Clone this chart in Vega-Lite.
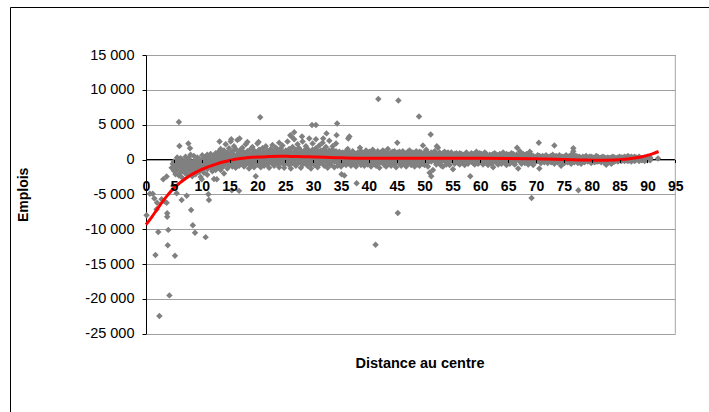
{
  "$schema": "https://vega.github.io/schema/vega-lite/v6.json",
  "width": 760,
  "height": 460,
  "autosize": "none",
  "padding": {"left": 10, "top": 7, "right": 0, "bottom": 0},
  "background": "white",
  "config": {
    "view": {"stroke": "#000000", "strokeWidth": 1},
    "font": "Liberation Sans"
  },
  "datasets": {
    "trend": [
      {"d":0,"e":-9350},{"d":1,"e":-8300},{"d":2,"e":-7150},{"d":3,"e":-6000},{"d":4,"e":-5000},{"d":5,"e":-4100},{"d":6,"e":-3400},{"d":7,"e":-2800},{"d":8,"e":-2250},{"d":9,"e":-1800},{"d":10,"e":-1400},{"d":11,"e":-1100},{"d":12,"e":-830},{"d":13,"e":-560},{"d":14,"e":-330},{"d":15,"e":-130},{"d":16,"e":50},{"d":17,"e":160},{"d":18,"e":240},{"d":19,"e":310},{"d":20,"e":360},{"d":22,"e":420},{"d":24,"e":460},{"d":26,"e":450},{"d":28,"e":410},{"d":30,"e":370},{"d":32,"e":320},{"d":34,"e":270},{"d":36,"e":220},{"d":40,"e":180},{"d":45,"e":170},{"d":50,"e":170},{"d":55,"e":170},{"d":60,"e":170},{"d":65,"e":160},{"d":70,"e":120},{"d":72,"e":60},{"d":75,"e":0},{"d":78,"e":-60},{"d":81,"e":-120},{"d":84,"e":-80},{"d":86,"e":40},{"d":88,"e":250},{"d":89,"e":400},{"d":90,"e":600},{"d":91,"e":850},{"d":92,"e":1150}
    ],
    "pts": [
      {"d":0.1,"e":-8000},{"d":0.7,"e":-4900},{"d":1.2,"e":-4900},{"d":1.5,"e":-5600},{"d":1.7,"e":-13700},{"d":1.9,"e":-7150},{"d":2.0,"e":-6200},{"d":2.2,"e":-10400},{"d":2.4,"e":-22450},{"d":2.8,"e":-5700},{"d":3.1,"e":-2830},{"d":3.3,"e":-6000},{"d":3.7,"e":-2450},{"d":3.7,"e":-6200},{"d":3.8,"e":-7700},{"d":3.8,"e":-8200},{"d":4.0,"e":-10100},{"d":3.9,"e":-12300},{"d":4.2,"e":-19500},{"d":4.6,"e":-1200},{"d":4.8,"e":-600},{"d":4.9,"e":-3800},{"d":5.2,"e":-13800},{"d":5.5,"e":-4850},{"d":5.9,"e":5400},{"d":6.0,"e":1950},{"d":6.4,"e":-5800},{"d":7.3,"e":-5200},{"d":7.6,"e":2300},{"d":7.9,"e":1600},{"d":8.1,"e":-7250},{"d":8.4,"e":-9450},{"d":8.8,"e":-10500},{"d":10.7,"e":-11140},{"d":11.2,"e":-5000},{"d":11.3,"e":-5800},{"d":10.0,"e":-2830},{"d":12.7,"e":-2830},{"d":15.4,"e":-4420},{"d":16.7,"e":-4500},{"d":20.5,"e":6050},{"d":20.2,"e":2530},{"d":18.2,"e":2500},{"d":16.8,"e":3000},{"d":15.3,"e":2900},{"d":13.2,"e":2600},{"d":23.9,"e":2400},{"d":26.1,"e":3300},{"d":26.6,"e":3900},{"d":25.9,"e":3500},{"d":28.0,"e":3300},{"d":29.8,"e":4940},{"d":30.5,"e":4940},{"d":31.8,"e":3000},{"d":32.4,"e":3750},{"d":34.3,"e":5170},{"d":34.2,"e":3500},{"d":36.3,"e":3000},{"d":36.5,"e":3300},{"d":38.4,"e":1700},{"d":41.7,"e":8680},{"d":45.3,"e":8480},{"d":45.1,"e":2400},{"d":41.2,"e":-12230},{"d":45.2,"e":-7680},{"d":49.0,"e":6180},{"d":51.1,"e":3600},{"d":49.7,"e":2000},{"d":52.2,"e":1900},{"d":58.2,"e":-2400},{"d":66.6,"e":1700},{"d":68.9,"e":1100},{"d":70.5,"e":2400},{"d":69.2,"e":-5520},{"d":73.3,"e":2000},{"d":76.7,"e":1600},{"d":76.7,"e":1200},{"d":77.6,"e":-4420},{"d":91.9,"e":150},{"d":37.8,"e":-3400},{"d":35.1,"e":-2100},{"d":35.6,"e":-2300},
      {"d":5.0,"e":-300},{"d":5.0,"e":-900},{"d":5.0,"e":-1600},{"d":5.3,"e":-200},{"d":5.3,"e":-1200},{"d":5.3,"e":-2100},{"d":5.6,"e":-600},{"d":5.6,"e":-1500},{"d":5.6,"e":300},{"d":5.9,"e":-100},{"d":5.9,"e":-800},{"d":5.9,"e":-2300},{"d":6.2,"e":-400},{"d":6.2,"e":-1100},{"d":6.2,"e":-1900},{"d":6.2,"e":200},{"d":6.5,"e":-700},{"d":6.5,"e":-1400},{"d":6.5,"e":-2600},{"d":6.8,"e":-200},{"d":6.8,"e":-1000},{"d":6.8,"e":-1700},{"d":7.1,"e":-500},{"d":7.1,"e":-1300},{"d":7.1,"e":-2000},{"d":7.1,"e":400},{"d":7.4,"e":-100},{"d":7.4,"e":-900},{"d":7.4,"e":-2200},{"d":7.7,"e":-600},{"d":7.7,"e":-1500},{"d":7.7,"e":200},{"d":8.0,"e":-300},{"d":8.0,"e":-1100},{"d":8.0,"e":-1800},{"d":8.0,"e":700},{"d":8.3,"e":-800},{"d":8.3,"e":-1400},{"d":8.3,"e":-2400},{"d":8.6,"e":-200},{"d":8.6,"e":-1000},{"d":8.6,"e":500},{"d":8.9,"e":-500},{"d":8.9,"e":-1600},{"d":8.9,"e":-2100},{"d":9.2,"e":-100},{"d":9.2,"e":-900},{"d":9.2,"e":300},{"d":9.2,"e":-1300},{"d":9.5,"e":-700},{"d":9.5,"e":-1800},{"d":9.5,"e":100},{"d":9.8,"e":-400},{"d":9.8,"e":-1200},{"d":9.8,"e":-2500},{"d":10.1,"e":600},{"d":10.1,"e":-200},{"d":10.1,"e":-1000},{"d":10.1,"e":-1500},{"d":10.4,"e":200},{"d":10.4,"e":-600},{"d":10.4,"e":-1900},{"d":10.7,"e":-300},{"d":10.7,"e":-1100},{"d":10.7,"e":400},{"d":11.0,"e":700},{"d":11.0,"e":-800},{"d":11.0,"e":-1400},{"d":11.0,"e":-2200},{"d":11.3,"e":-100},{"d":11.3,"e":-600},{"d":11.3,"e":300},{"d":11.6,"e":-400},{"d":11.6,"e":-1200},{"d":11.6,"e":800},{"d":11.9,"e":100},{"d":11.9,"e":-900},{"d":11.9,"e":-1700},{"d":12.2,"e":500},{"d":12.2,"e":-300},{"d":12.2,"e":-1000},{"d":12.2,"e":-2800},{"d":12.5,"e":900},{"d":12.5,"e":0},{"d":12.5,"e":-700},{"d":12.5,"e":-1500},{"d":12.8,"e":300},{"d":12.8,"e":-400},{"d":12.8,"e":-1200},
      {"d":13.1,"e":1200},{"d":13.1,"e":600},{"d":13.1,"e":-200},{"d":13.1,"e":-900},{"d":13.4,"e":-600},{"d":13.4,"e":-1500},{"d":13.4,"e":200},{"d":13.4,"e":1500},{"d":13.7,"e":800},{"d":13.7,"e":100},{"d":13.7,"e":-400},{"d":13.7,"e":-1100},{"d":14.0,"e":1300},{"d":14.0,"e":400},{"d":14.0,"e":-300},{"d":14.0,"e":-2000},{"d":14.0,"e":-800},{"d":14.3,"e":2200},{"d":14.3,"e":700},{"d":14.3,"e":0},{"d":14.3,"e":-600},{"d":14.6,"e":1000},{"d":14.6,"e":200},{"d":14.6,"e":-300},{"d":14.6,"e":-1300},{"d":14.9,"e":500},{"d":14.9,"e":-100},{"d":14.9,"e":-900},{"d":14.9,"e":1600},{"d":15.2,"e":2600},{"d":15.2,"e":900},{"d":15.2,"e":200},{"d":15.2,"e":-500},{"d":15.5,"e":1200},{"d":15.5,"e":400},{"d":15.5,"e":-200},{"d":15.5,"e":-1000},{"d":15.8,"e":700},{"d":15.8,"e":0},{"d":15.8,"e":-700},{"d":15.8,"e":1900},{"d":16.1,"e":1500},{"d":16.1,"e":300},{"d":16.1,"e":-400},{"d":16.1,"e":-1200},{"d":16.4,"e":2800},{"d":16.4,"e":800},{"d":16.4,"e":100},{"d":16.4,"e":-300},{"d":16.7,"e":1100},{"d":16.7,"e":500},{"d":16.7,"e":-100},{"d":16.7,"e":-900},{"d":17.0,"e":600},{"d":17.0,"e":0},{"d":17.0,"e":-600},{"d":17.0,"e":1400},{"d":17.3,"e":1700},{"d":17.3,"e":900},{"d":17.3,"e":200},{"d":17.3,"e":-400},{"d":17.6,"e":1000},{"d":17.6,"e":300},{"d":17.6,"e":-200},{"d":17.6,"e":-1000},{"d":17.9,"e":500},{"d":17.9,"e":-100},{"d":17.9,"e":-700},{"d":17.9,"e":2200},{"d":18.2,"e":1200},{"d":18.2,"e":600},{"d":18.2,"e":0},{"d":18.2,"e":-500},{"d":18.5,"e":800},{"d":18.5,"e":200},{"d":18.5,"e":-300},{"d":18.5,"e":-1300},{"d":18.8,"e":1500},{"d":18.8,"e":400},{"d":18.8,"e":-100},{"d":18.8,"e":-800},{"d":19.1,"e":900},{"d":19.1,"e":100},{"d":19.1,"e":-500},{"d":19.1,"e":1800},{"d":19.4,"e":1300},{"d":19.4,"e":600},{"d":19.4,"e":-200},{"d":19.4,"e":-1100},{"d":19.7,"e":700},{"d":19.7,"e":200},{"d":19.7,"e":-400},{"d":19.7,"e":-2400},{"d":20.0,"e":1000},{"d":20.0,"e":400},{"d":20.0,"e":-100},{"d":20.0,"e":-700},{"d":20.0,"e":2300},
      {"d":20.3,"e":1400},{"d":20.3,"e":600},{"d":20.3,"e":0},{"d":20.3,"e":-600},{"d":20.6,"e":900},{"d":20.6,"e":300},{"d":20.6,"e":-300},{"d":20.6,"e":-1100},{"d":20.9,"e":1600},{"d":20.9,"e":700},{"d":20.9,"e":100},{"d":20.9,"e":-500},{"d":21.2,"e":1100},{"d":21.2,"e":400},{"d":21.2,"e":-200},{"d":21.2,"e":-900},{"d":21.5,"e":800},{"d":21.5,"e":0},{"d":21.5,"e":-500},{"d":21.5,"e":1900},{"d":21.8,"e":1300},{"d":21.8,"e":600},{"d":21.8,"e":100},{"d":21.8,"e":-700},{"d":22.1,"e":1000},{"d":22.1,"e":300},{"d":22.1,"e":-300},{"d":22.1,"e":-1200},{"d":22.4,"e":1500},{"d":22.4,"e":800},{"d":22.4,"e":200},{"d":22.4,"e":-400},{"d":22.7,"e":700},{"d":22.7,"e":0},{"d":22.7,"e":-600},{"d":22.7,"e":2100},{"d":23.0,"e":1200},{"d":23.0,"e":500},{"d":23.0,"e":-100},{"d":23.0,"e":-900},{"d":23.3,"e":900},{"d":23.3,"e":300},{"d":23.3,"e":-400},{"d":23.3,"e":1700},{"d":23.6,"e":1400},{"d":23.6,"e":700},{"d":23.6,"e":100},{"d":23.6,"e":-600},{"d":23.9,"e":1000},{"d":23.9,"e":400},{"d":23.9,"e":-200},{"d":23.9,"e":-1100},{"d":24.2,"e":1600},{"d":24.2,"e":800},{"d":24.2,"e":0},{"d":24.2,"e":-500},{"d":24.5,"e":1100},{"d":24.5,"e":300},{"d":24.5,"e":-300},{"d":24.5,"e":2000},{"d":24.8,"e":800},{"d":24.8,"e":100},{"d":24.8,"e":-700},{"d":24.8,"e":-1200},{"d":25.1,"e":1300},{"d":25.1,"e":600},{"d":25.1,"e":0},{"d":25.1,"e":-400},{"d":25.4,"e":900},{"d":25.4,"e":300},{"d":25.4,"e":-500},{"d":25.4,"e":2600},{"d":25.7,"e":1500},{"d":25.7,"e":700},{"d":25.7,"e":100},{"d":25.7,"e":-800},{"d":26.0,"e":1100},{"d":26.0,"e":400},{"d":26.0,"e":-200},{"d":26.0,"e":-1300},{"d":26.3,"e":1800},{"d":26.3,"e":800},{"d":26.3,"e":0},{"d":26.3,"e":-500},{"d":26.6,"e":1000},{"d":26.6,"e":300},{"d":26.6,"e":-400},{"d":26.6,"e":2900},{"d":26.9,"e":1400},{"d":26.9,"e":600},{"d":26.9,"e":100},{"d":26.9,"e":-900},{"d":27.2,"e":900},{"d":27.2,"e":200},{"d":27.2,"e":-600},{"d":27.2,"e":2200},{"d":27.5,"e":1600},{"d":27.5,"e":700},{"d":27.5,"e":0},{"d":27.5,"e":-400},{"d":27.8,"e":1200},{"d":27.8,"e":400},{"d":27.8,"e":-300},{"d":27.8,"e":-1200},{"d":28.1,"e":800},{"d":28.1,"e":100},{"d":28.1,"e":-700},{"d":28.1,"e":2600},{"d":28.4,"e":1300},{"d":28.4,"e":600},{"d":28.4,"e":0},{"d":28.4,"e":-500},{"d":28.7,"e":1000},{"d":28.7,"e":300},{"d":28.7,"e":-400},{"d":28.7,"e":1900},{"d":29.0,"e":1500},{"d":29.0,"e":700},{"d":29.0,"e":100},{"d":29.0,"e":-900},{"d":29.3,"e":1100},{"d":29.3,"e":400},{"d":29.3,"e":-200},{"d":29.3,"e":3000},{"d":29.6,"e":800},{"d":29.6,"e":0},{"d":29.6,"e":-600},{"d":29.6,"e":-1300},{"d":29.9,"e":1400},{"d":29.9,"e":600},{"d":29.9,"e":100},{"d":29.9,"e":2300},{"d":30.2,"e":1000},{"d":30.2,"e":300},{"d":30.2,"e":-300},{"d":30.2,"e":-800},{"d":30.5,"e":1600},{"d":30.5,"e":800},{"d":30.5,"e":0},{"d":30.5,"e":2900},{"d":30.8,"e":1200},{"d":30.8,"e":400},{"d":30.8,"e":-400},{"d":30.8,"e":-1100},{"d":31.1,"e":900},{"d":31.1,"e":200},{"d":31.1,"e":-600},{"d":31.1,"e":2000},{"d":31.4,"e":1300},{"d":31.4,"e":600},{"d":31.4,"e":0},{"d":31.4,"e":-500},{"d":31.7,"e":1000},{"d":31.7,"e":300},{"d":31.7,"e":-300},{"d":31.7,"e":2400},{"d":32.0,"e":1500},{"d":32.0,"e":700},{"d":32.0,"e":100},{"d":32.0,"e":-900},{"d":32.3,"e":1100},{"d":32.3,"e":400},{"d":32.3,"e":-200},{"d":32.3,"e":1800},{"d":32.6,"e":800},{"d":32.6,"e":0},{"d":32.6,"e":-700},{"d":32.6,"e":-1200},{"d":32.9,"e":1300},{"d":32.9,"e":500},{"d":32.9,"e":0},{"d":32.9,"e":2700},{"d":33.2,"e":900},{"d":33.2,"e":300},{"d":33.2,"e":-400},{"d":33.2,"e":-800},{"d":33.5,"e":1400},{"d":33.5,"e":700},{"d":33.5,"e":100},{"d":33.5,"e":1900},{"d":33.8,"e":1000},{"d":33.8,"e":400},{"d":33.8,"e":-300},{"d":33.8,"e":-1100},{"d":34.1,"e":1200},{"d":34.1,"e":500},{"d":34.1,"e":-100},{"d":34.1,"e":2300},{"d":34.4,"e":800},{"d":34.4,"e":200},{"d":34.4,"e":-500},{"d":34.4,"e":-900},{"d":34.7,"e":1100},{"d":34.7,"e":600},{"d":34.7,"e":0},{"d":34.7,"e":-400},{"d":35.0,"e":900},{"d":35.0,"e":300},{"d":35.0,"e":-300},{"d":35.0,"e":-1000},
      {"d":35.3,"e":1000},{"d":35.3,"e":400},{"d":35.3,"e":-200},{"d":35.3,"e":-700},{"d":35.6,"e":700},{"d":35.6,"e":100},{"d":35.6,"e":-500},{"d":35.9,"e":1200},{"d":35.9,"e":500},{"d":35.9,"e":-100},{"d":35.9,"e":-800},{"d":36.2,"e":800},{"d":36.2,"e":200},{"d":36.2,"e":-400},{"d":36.2,"e":1500},{"d":36.5,"e":1000},{"d":36.5,"e":600},{"d":36.5,"e":0},{"d":36.5,"e":-600},{"d":36.8,"e":700},{"d":36.8,"e":300},{"d":36.8,"e":-300},{"d":36.8,"e":-900},{"d":37.1,"e":1100},{"d":37.1,"e":400},{"d":37.1,"e":-100},{"d":37.1,"e":1200},{"d":37.4,"e":900},{"d":37.4,"e":100},{"d":37.4,"e":-500},{"d":37.4,"e":-700},{"d":37.7,"e":600},{"d":37.7,"e":200},{"d":37.7,"e":-200},{"d":37.7,"e":-1000},{"d":38.0,"e":1000},{"d":38.0,"e":500},{"d":38.0,"e":0},{"d":38.0,"e":-400},{"d":38.3,"e":800},{"d":38.3,"e":300},{"d":38.3,"e":-300},{"d":38.6,"e":1200},{"d":38.6,"e":600},{"d":38.6,"e":-100},{"d":38.6,"e":-800},{"d":38.9,"e":700},{"d":38.9,"e":200},{"d":38.9,"e":-400},{"d":38.9,"e":-600},{"d":39.2,"e":1000},{"d":39.2,"e":400},{"d":39.2,"e":0},{"d":39.2,"e":-900},{"d":39.5,"e":800},{"d":39.5,"e":100},{"d":39.5,"e":-300},{"d":39.5,"e":1300},{"d":39.8,"e":600},{"d":39.8,"e":300},{"d":39.8,"e":-200},{"d":39.8,"e":-700},{"d":40.1,"e":1100},{"d":40.1,"e":500},{"d":40.1,"e":0},{"d":40.1,"e":-500},{"d":40.4,"e":900},{"d":40.4,"e":200},{"d":40.4,"e":-400},{"d":40.4,"e":-1000},{"d":40.7,"e":700},{"d":40.7,"e":400},{"d":40.7,"e":-100},{"d":40.7,"e":1400},{"d":41.0,"e":1000},{"d":41.0,"e":600},{"d":41.0,"e":0},{"d":41.0,"e":-600},{"d":41.3,"e":800},{"d":41.3,"e":100},{"d":41.3,"e":-300},{"d":41.3,"e":-900},{"d":41.6,"e":1200},{"d":41.6,"e":500},{"d":41.6,"e":-200},{"d":41.6,"e":600},{"d":41.9,"e":700},{"d":41.9,"e":300},{"d":41.9,"e":-500},{"d":41.9,"e":-1200},{"d":42.2,"e":1000},{"d":42.2,"e":400},{"d":42.2,"e":0},{"d":42.2,"e":-400},{"d":42.5,"e":800},{"d":42.5,"e":200},{"d":42.5,"e":-300},{"d":42.5,"e":1300},{"d":42.8,"e":1100},{"d":42.8,"e":600},{"d":42.8,"e":-100},{"d":42.8,"e":-800},{"d":43.1,"e":600},{"d":43.1,"e":100},{"d":43.1,"e":-400},{"d":43.1,"e":-1000},{"d":43.4,"e":900},{"d":43.4,"e":400},{"d":43.4,"e":0},{"d":43.4,"e":1500},{"d":43.7,"e":700},{"d":43.7,"e":200},{"d":43.7,"e":-300},{"d":43.7,"e":-600},{"d":44.0,"e":1000},{"d":44.0,"e":500},{"d":44.0,"e":-100},{"d":44.0,"e":-900},{"d":44.3,"e":800},{"d":44.3,"e":300},{"d":44.3,"e":-400},{"d":44.3,"e":1100},{"d":44.6,"e":1200},{"d":44.6,"e":600},{"d":44.6,"e":0},{"d":44.6,"e":-700},{"d":44.9,"e":700},{"d":44.9,"e":100},{"d":44.9,"e":-200},{"d":44.9,"e":-1100},{"d":45.2,"e":900},{"d":45.2,"e":400},{"d":45.2,"e":-300},{"d":45.2,"e":1000},{"d":45.5,"e":1100},{"d":45.5,"e":500},{"d":45.5,"e":0},{"d":45.5,"e":-600},{"d":45.8,"e":800},{"d":45.8,"e":200},{"d":45.8,"e":-400},{"d":45.8,"e":-900},{"d":46.1,"e":1000},{"d":46.1,"e":300},{"d":46.1,"e":-100},{"d":46.1,"e":1200},{"d":46.4,"e":700},{"d":46.4,"e":500},{"d":46.4,"e":-300},{"d":46.4,"e":-700},{"d":46.7,"e":900},{"d":46.7,"e":100},{"d":46.7,"e":-200},{"d":46.7,"e":-1000},{"d":47.0,"e":1100},{"d":47.0,"e":400},{"d":47.0,"e":0},{"d":47.0,"e":-500},{"d":47.3,"e":800},{"d":47.3,"e":300},{"d":47.3,"e":-400},{"d":47.3,"e":1300},{"d":47.6,"e":600},{"d":47.6,"e":200},{"d":47.6,"e":-100},{"d":47.6,"e":-800},{"d":47.9,"e":1000},{"d":47.9,"e":500},{"d":47.9,"e":-300},{"d":47.9,"e":-600},{"d":48.2,"e":800},{"d":48.2,"e":100},{"d":48.2,"e":0},{"d":48.2,"e":-1000},{"d":48.5,"e":900},{"d":48.5,"e":400},{"d":48.5,"e":-200},{"d":48.5,"e":1200},{"d":48.8,"e":700},{"d":48.8,"e":300},{"d":48.8,"e":-400},{"d":48.8,"e":-700},{"d":49.1,"e":1100},{"d":49.1,"e":500},{"d":49.1,"e":0},{"d":49.1,"e":-900},{"d":49.4,"e":800},{"d":49.4,"e":200},{"d":49.4,"e":-300},{"d":49.4,"e":1000},{"d":49.7,"e":600},{"d":49.7,"e":100},{"d":49.7,"e":-100},{"d":49.7,"e":-600},{"d":50.0,"e":1000},{"d":50.0,"e":400},{"d":50.0,"e":-200},{"d":50.0,"e":-800},{"d":50.3,"e":700},{"d":50.3,"e":300},{"d":50.3,"e":0},{"d":50.3,"e":1400},{"d":50.6,"e":900},{"d":50.6,"e":500},{"d":50.6,"e":-400},{"d":50.6,"e":-1000},{"d":50.9,"e":800},{"d":50.9,"e":200},{"d":50.9,"e":-100},{"d":50.9,"e":-1900},{"d":51.2,"e":1000},{"d":51.2,"e":400},{"d":51.2,"e":-300},{"d":51.2,"e":-2400},{"d":51.5,"e":700},{"d":51.5,"e":100},{"d":51.5,"e":0},{"d":51.5,"e":-1500},{"d":51.8,"e":900},{"d":51.8,"e":300},{"d":51.8,"e":-200},{"d":51.8,"e":1200},{"d":52.1,"e":600},{"d":52.1,"e":500},{"d":52.1,"e":-400},{"d":52.1,"e":-700},{"d":52.4,"e":800},{"d":52.4,"e":200},{"d":52.4,"e":0},{"d":52.4,"e":1700},{"d":52.7,"e":1000},{"d":52.7,"e":400},{"d":52.7,"e":-100},{"d":52.7,"e":-600},{"d":53.0,"e":700},{"d":53.0,"e":100},{"d":53.0,"e":-300},{"d":53.0,"e":-900},{"d":53.3,"e":900},{"d":53.3,"e":300},{"d":53.3,"e":0},{"d":53.3,"e":-1000},{"d":53.6,"e":600},{"d":53.6,"e":200},{"d":53.6,"e":-200},{"d":53.6,"e":1100},{"d":53.9,"e":800},{"d":53.9,"e":400},{"d":53.9,"e":-400},{"d":53.9,"e":-700},{"d":54.2,"e":1000},{"d":54.2,"e":500},{"d":54.2,"e":0},{"d":54.2,"e":-500},{"d":54.5,"e":700},{"d":54.5,"e":100},{"d":54.5,"e":-300},{"d":54.5,"e":-800},{"d":54.8,"e":900},{"d":54.8,"e":300},{"d":54.8,"e":-100},{"d":54.8,"e":1000},{"d":55.1,"e":600},{"d":55.1,"e":400},{"d":55.1,"e":-200},{"d":55.1,"e":-1400},
      {"d":55.4,"e":800},{"d":55.4,"e":200},{"d":55.4,"e":0},{"d":55.4,"e":-600},{"d":55.7,"e":600},{"d":55.7,"e":400},{"d":55.7,"e":-300},{"d":55.7,"e":900},{"d":56.0,"e":700},{"d":56.0,"e":100},{"d":56.0,"e":-100},{"d":56.0,"e":-500},{"d":56.3,"e":900},{"d":56.3,"e":300},{"d":56.3,"e":-200},{"d":56.3,"e":-700},{"d":56.6,"e":500},{"d":56.6,"e":200},{"d":56.6,"e":0},{"d":56.6,"e":800},{"d":56.9,"e":700},{"d":56.9,"e":400},{"d":56.9,"e":-300},{"d":56.9,"e":-500},{"d":57.2,"e":600},{"d":57.2,"e":100},{"d":57.2,"e":-100},{"d":57.2,"e":-800},{"d":57.5,"e":800},{"d":57.5,"e":300},{"d":57.5,"e":0},{"d":57.5,"e":1000},{"d":57.8,"e":500},{"d":57.8,"e":200},{"d":57.8,"e":-200},{"d":57.8,"e":-600},{"d":58.1,"e":700},{"d":58.1,"e":400},{"d":58.1,"e":-100},{"d":58.4,"e":600},{"d":58.4,"e":100},{"d":58.4,"e":-300},{"d":58.4,"e":900},{"d":58.7,"e":800},{"d":58.7,"e":300},{"d":58.7,"e":0},{"d":58.7,"e":-500},{"d":59.0,"e":500},{"d":59.0,"e":200},{"d":59.0,"e":-200},{"d":59.0,"e":-700},{"d":59.3,"e":700},{"d":59.3,"e":400},{"d":59.3,"e":-100},{"d":59.3,"e":1100},{"d":59.6,"e":600},{"d":59.6,"e":100},{"d":59.6,"e":0},{"d":59.6,"e":-600},{"d":59.9,"e":900},{"d":59.9,"e":300},{"d":59.9,"e":-300},{"d":59.9,"e":-400},{"d":60.2,"e":500},{"d":60.2,"e":200},{"d":60.2,"e":-100},{"d":60.2,"e":800},{"d":60.5,"e":700},{"d":60.5,"e":400},{"d":60.5,"e":0},{"d":60.5,"e":-700},{"d":60.8,"e":600},{"d":60.8,"e":100},{"d":60.8,"e":-200},{"d":60.8,"e":1000},{"d":61.1,"e":800},{"d":61.1,"e":300},{"d":61.1,"e":-100},{"d":61.1,"e":-500},{"d":61.4,"e":500},{"d":61.4,"e":200},{"d":61.4,"e":0},{"d":61.4,"e":-800},{"d":61.7,"e":700},{"d":61.7,"e":400},{"d":61.7,"e":-300},{"d":62.0,"e":600},{"d":62.0,"e":100},{"d":62.0,"e":-100},{"d":62.0,"e":-600},{"d":62.3,"e":800},{"d":62.3,"e":300},{"d":62.3,"e":0},{"d":62.3,"e":-1100},{"d":62.6,"e":500},{"d":62.6,"e":200},{"d":62.6,"e":-200},{"d":62.6,"e":900},{"d":62.9,"e":700},{"d":62.9,"e":400},{"d":62.9,"e":-100},{"d":62.9,"e":-500},{"d":63.2,"e":600},{"d":63.2,"e":100},{"d":63.2,"e":0},{"d":63.2,"e":-700},{"d":63.5,"e":800},{"d":63.5,"e":300},{"d":63.5,"e":-300},{"d":63.8,"e":500},{"d":63.8,"e":200},{"d":63.8,"e":-100},{"d":63.8,"e":-600},{"d":64.1,"e":700},{"d":64.1,"e":400},{"d":64.1,"e":0},{"d":64.1,"e":1000},{"d":64.4,"e":600},{"d":64.4,"e":100},{"d":64.4,"e":-200},{"d":64.4,"e":-500},{"d":64.7,"e":800},{"d":64.7,"e":300},{"d":64.7,"e":-100},{"d":64.7,"e":-800},{"d":65.0,"e":500},{"d":65.0,"e":200},{"d":65.0,"e":0},{"d":65.0,"e":700},{"d":65.3,"e":700},{"d":65.3,"e":400},{"d":65.3,"e":-300},{"d":65.3,"e":-600},{"d":65.6,"e":600},{"d":65.6,"e":100},{"d":65.6,"e":-100},{"d":65.6,"e":900},{"d":65.9,"e":800},{"d":65.9,"e":300},{"d":65.9,"e":0},{"d":65.9,"e":-500},{"d":66.2,"e":500},{"d":66.2,"e":200},{"d":66.2,"e":-200},{"d":66.2,"e":-700},{"d":66.5,"e":700},{"d":66.5,"e":400},{"d":66.5,"e":-100},{"d":66.8,"e":600},{"d":66.8,"e":100},{"d":66.8,"e":0},{"d":66.8,"e":-1300},{"d":67.1,"e":800},{"d":67.1,"e":300},{"d":67.1,"e":-300},{"d":67.1,"e":1200},{"d":67.4,"e":500},{"d":67.4,"e":200},{"d":67.4,"e":-100},{"d":67.4,"e":-600},{"d":67.7,"e":700},{"d":67.7,"e":400},{"d":67.7,"e":0},{"d":67.7,"e":800},{"d":68.0,"e":600},{"d":68.0,"e":100},{"d":68.0,"e":-200},{"d":68.0,"e":-500},{"d":68.3,"e":800},{"d":68.3,"e":300},{"d":68.3,"e":-100},{"d":68.6,"e":500},{"d":68.6,"e":200},{"d":68.6,"e":0},{"d":68.6,"e":-700},{"d":68.9,"e":700},{"d":68.9,"e":400},{"d":68.9,"e":-300},{"d":69.2,"e":600},{"d":69.2,"e":100},{"d":69.2,"e":-100},{"d":69.2,"e":-500},{"d":69.5,"e":500},{"d":69.5,"e":300},{"d":69.5,"e":0},{"d":69.5,"e":-800},
      {"d":70.0,"e":400},{"d":70.0,"e":200},{"d":70.0,"e":-100},{"d":70.0,"e":-300},{"d":70.3,"e":300},{"d":70.3,"e":0},{"d":70.3,"e":-200},{"d":70.3,"e":600},{"d":70.6,"e":500},{"d":70.6,"e":100},{"d":70.6,"e":-300},{"d":70.6,"e":-1300},{"d":70.9,"e":400},{"d":70.9,"e":200},{"d":70.9,"e":-100},{"d":70.9,"e":-500},{"d":71.2,"e":300},{"d":71.2,"e":0},{"d":71.2,"e":-200},{"d":71.2,"e":500},{"d":71.5,"e":400},{"d":71.5,"e":100},{"d":71.5,"e":-400},{"d":71.5,"e":-300},{"d":71.8,"e":200},{"d":71.8,"e":300},{"d":71.8,"e":-100},{"d":71.8,"e":600},{"d":72.1,"e":400},{"d":72.1,"e":0},{"d":72.1,"e":-300},{"d":72.1,"e":-500},{"d":72.4,"e":300},{"d":72.4,"e":200},{"d":72.4,"e":-100},{"d":72.4,"e":400},{"d":72.7,"e":500},{"d":72.7,"e":100},{"d":72.7,"e":-200},{"d":72.7,"e":-400},{"d":73.0,"e":300},{"d":73.0,"e":0},{"d":73.0,"e":-300},{"d":73.0,"e":700},{"d":73.3,"e":400},{"d":73.3,"e":200},{"d":73.3,"e":-100},{"d":73.3,"e":-600},{"d":73.6,"e":200},{"d":73.6,"e":100},{"d":73.6,"e":-200},{"d":73.6,"e":500},{"d":73.9,"e":400},{"d":73.9,"e":300},{"d":73.9,"e":0},{"d":73.9,"e":-400},{"d":74.2,"e":300},{"d":74.2,"e":100},{"d":74.2,"e":-300},{"d":74.2,"e":600},{"d":74.5,"e":400},{"d":74.5,"e":200},{"d":74.5,"e":-100},{"d":74.5,"e":-900},{"d":74.8,"e":200},{"d":74.8,"e":0},{"d":74.8,"e":-200},{"d":74.8,"e":400},{"d":75.1,"e":400},{"d":75.1,"e":300},{"d":75.1,"e":-100},{"d":75.1,"e":-500},{"d":75.4,"e":300},{"d":75.4,"e":100},{"d":75.4,"e":-300},{"d":75.4,"e":600},{"d":75.7,"e":400},{"d":75.7,"e":200},{"d":75.7,"e":0},{"d":75.7,"e":-400},{"d":76.0,"e":300},{"d":76.0,"e":100},{"d":76.0,"e":-200},{"d":76.0,"e":500},{"d":76.3,"e":400},{"d":76.3,"e":200},{"d":76.3,"e":-100},{"d":76.3,"e":-600},{"d":76.6,"e":200},{"d":76.6,"e":0},{"d":76.6,"e":-300},{"d":76.6,"e":900},{"d":76.9,"e":400},{"d":76.9,"e":300},{"d":76.9,"e":-100},{"d":76.9,"e":-400},{"d":77.2,"e":300},{"d":77.2,"e":100},{"d":77.2,"e":-200},{"d":77.2,"e":500},{"d":77.5,"e":400},{"d":77.5,"e":200},{"d":77.5,"e":0},{"d":77.5,"e":-500},{"d":77.8,"e":300},{"d":77.8,"e":100},{"d":77.8,"e":-300},{"d":77.8,"e":400},{"d":78.1,"e":200},{"d":78.1,"e":0},{"d":78.1,"e":-100},{"d":78.1,"e":-600},{"d":78.4,"e":400},{"d":78.4,"e":200},{"d":78.4,"e":-200},{"d":78.4,"e":300},{"d":78.7,"e":300},{"d":78.7,"e":100},{"d":78.7,"e":-300},{"d":78.7,"e":-400},{"d":79.0,"e":400},{"d":79.0,"e":0},{"d":79.0,"e":-100},{"d":79.0,"e":500},{"d":79.3,"e":200},{"d":79.3,"e":100},{"d":79.3,"e":-200},{"d":79.3,"e":-300},{"d":79.6,"e":300},{"d":79.6,"e":200},{"d":79.6,"e":-100},{"d":79.6,"e":400},{"d":79.9,"e":400},{"d":79.9,"e":0},{"d":79.9,"e":-300},{"d":79.9,"e":-500},{"d":80.2,"e":300},{"d":80.2,"e":100},{"d":80.2,"e":-200},{"d":80.5,"e":200},{"d":80.5,"e":0},{"d":80.5,"e":-100},{"d":80.5,"e":-400},{"d":80.8,"e":300},{"d":80.8,"e":200},{"d":80.8,"e":-300},{"d":80.8,"e":500},{"d":81.1,"e":400},{"d":81.1,"e":100},{"d":81.1,"e":-100},{"d":81.1,"e":-300},{"d":81.4,"e":200},{"d":81.4,"e":0},{"d":81.4,"e":-200},{"d":81.7,"e":300},{"d":81.7,"e":100},{"d":81.7,"e":-300},{"d":81.7,"e":-400},{"d":82.0,"e":200},{"d":82.0,"e":0},{"d":82.0,"e":-100},{"d":82.0,"e":400},{"d":82.3,"e":300},{"d":82.3,"e":100},{"d":82.3,"e":-200},{"d":82.3,"e":-500},{"d":82.6,"e":200},{"d":82.6,"e":0},{"d":82.6,"e":-750},{"d":82.9,"e":300},{"d":82.9,"e":100},{"d":82.9,"e":-100},{"d":82.9,"e":-400},{"d":83.2,"e":200},{"d":83.2,"e":0},{"d":83.2,"e":-200},{"d":83.5,"e":300},{"d":83.5,"e":100},{"d":83.5,"e":-600},{"d":83.5,"e":-100},{"d":83.8,"e":200},{"d":83.8,"e":0},{"d":83.8,"e":-400},{"d":83.8,"e":400},{"d":84.1,"e":300},{"d":84.1,"e":100},{"d":84.1,"e":-300},{"d":84.1,"e":-200},{"d":84.4,"e":200},{"d":84.4,"e":0},{"d":84.4,"e":-100},{"d":84.7,"e":300},{"d":84.7,"e":100},{"d":84.7,"e":-200},{"d":84.7,"e":-300},{"d":85.0,"e":200},{"d":85.0,"e":0},{"d":85.0,"e":-100},{"d":85.0,"e":400},{"d":85.3,"e":300},{"d":85.3,"e":100},{"d":85.3,"e":-200},{"d":85.6,"e":200},{"d":85.6,"e":0},{"d":85.6,"e":-100},{"d":85.6,"e":300},{"d":85.9,"e":400},{"d":85.9,"e":100},{"d":85.9,"e":-200},{"d":86.2,"e":300},{"d":86.2,"e":0},{"d":86.2,"e":-100},{"d":86.5,"e":200},{"d":86.5,"e":100},{"d":86.5,"e":-200},{"d":86.5,"e":500},{"d":86.8,"e":300},{"d":86.8,"e":0},{"d":86.8,"e":-100},{"d":87.1,"e":200},{"d":87.1,"e":100},{"d":87.1,"e":-300},{"d":87.1,"e":400},{"d":87.4,"e":300},{"d":87.4,"e":0},{"d":87.4,"e":-100},{"d":87.7,"e":400},{"d":87.7,"e":100},{"d":87.7,"e":-200},{"d":88.0,"e":200},{"d":88.0,"e":0},{"d":88.0,"e":300},{"d":88.5,"e":300},{"d":88.5,"e":100},{"d":88.5,"e":-200},{"d":88.5,"e":400},{"d":89.0,"e":200},{"d":89.0,"e":0},{"d":89.0,"e":-100},{"d":89.5,"e":300},{"d":89.5,"e":100},{"d":89.5,"e":-200},{"d":90.0,"e":200},{"d":90.0,"e":0},{"d":90.0,"e":-100},{"d":90.0,"e":400},{"d":90.5,"e":100},{"d":90.5,"e":-100},{"d":90.5,"e":300}
    ]
  },
  "layer": [
    {
      "data": {"values": [{"d": 0, "b": 95, "e": 0}]},
      "mark": {"type": "rule", "color": "#000000", "strokeWidth": 1},
      "encoding": {
        "x": {
          "field": "d", "type": "quantitative",
          "scale": {"domain": [0, 95], "range": [136, 665.3], "nice": false, "zero": false},
          "axis": {
            "title": "Distance au centre",
            "titleFont": "Liberation Sans", "titleFontSize": 14.5, "titleFontWeight": "bold", "titleColor": "#000000",
            "titleX": 409.5, "titlePadding": 163,
            "offset": -307.5,
            "values": [0,5,10,15,20,25,30,35,40,45,50,55,60,65,70,75,80,85,90,95],
            "tickCount": 20,
            "grid": false, "domain": false,
            "ticks": true, "tickSize": 3, "tickColor": "#000000",
            "labelFont": "Liberation Sans", "labelFontSize": 14, "labelFontWeight": "bold", "labelColor": "#000000",
            "labelPadding": 17, "labelOverlap": false, "labelFlush": false, "labelBound": false,
            "zindex": 1
          }
        },
        "x2": {"field": "b"},
        "y": {
          "field": "e", "type": "quantitative",
          "scale": {"domain": [-25000, 15000], "range": [326.7, 48], "nice": false, "zero": false},
          "axis": {
            "title": "Emplois",
            "titleFont": "Liberation Sans", "titleFontSize": 14, "titleFontWeight": "bold", "titleColor": "#000000",
            "titlePadding": 54,
            "offset": -136,
            "values": [-25000,-20000,-15000,-10000,-5000,0,5000,10000,15000],
            "grid": true, "gridColor": "#a0a0a0", "gridWidth": 1.2,
            "domain": true, "domainColor": "#000000", "domainWidth": 1,
            "ticks": true, "tickSize": 4, "tickColor": "#000000",
            "labelFont": "Liberation Sans", "labelFontSize": 14.5, "labelColor": "#000000",
            "labelPadding": 8,
            "labelExpr": "(datum.value < 0 ? '-' : '') + replace(format(abs(datum.value), ','), ',', ' ')"
          }
        }
      }
    },
    {
      "data": {"values": [{"d": 95, "e": -25000, "hi": 15000}]},
      "mark": {"type": "rule", "color": "#a6a6a6", "strokeWidth": 1},
      "encoding": {
        "x": {"field": "d", "type": "quantitative"},
        "y": {"field": "e", "type": "quantitative"},
        "y2": {"field": "hi"}
      }
    },
    {
      "data": {"name": "pts"},
      "mark": {"type": "point", "shape": "diamond", "filled": true, "color": "#808080", "size": 42, "opacity": 1},
      "encoding": {
        "x": {"field": "d", "type": "quantitative"},
        "y": {"field": "e", "type": "quantitative"}
      }
    },
    {
      "data": {"name": "trend"},
      "mark": {"type": "line", "color": "#ff0000", "strokeWidth": 3, "interpolate": "monotone"},
      "encoding": {
        "x": {"field": "d", "type": "quantitative"},
        "y": {"field": "e", "type": "quantitative"}
      }
    }
  ]
}
